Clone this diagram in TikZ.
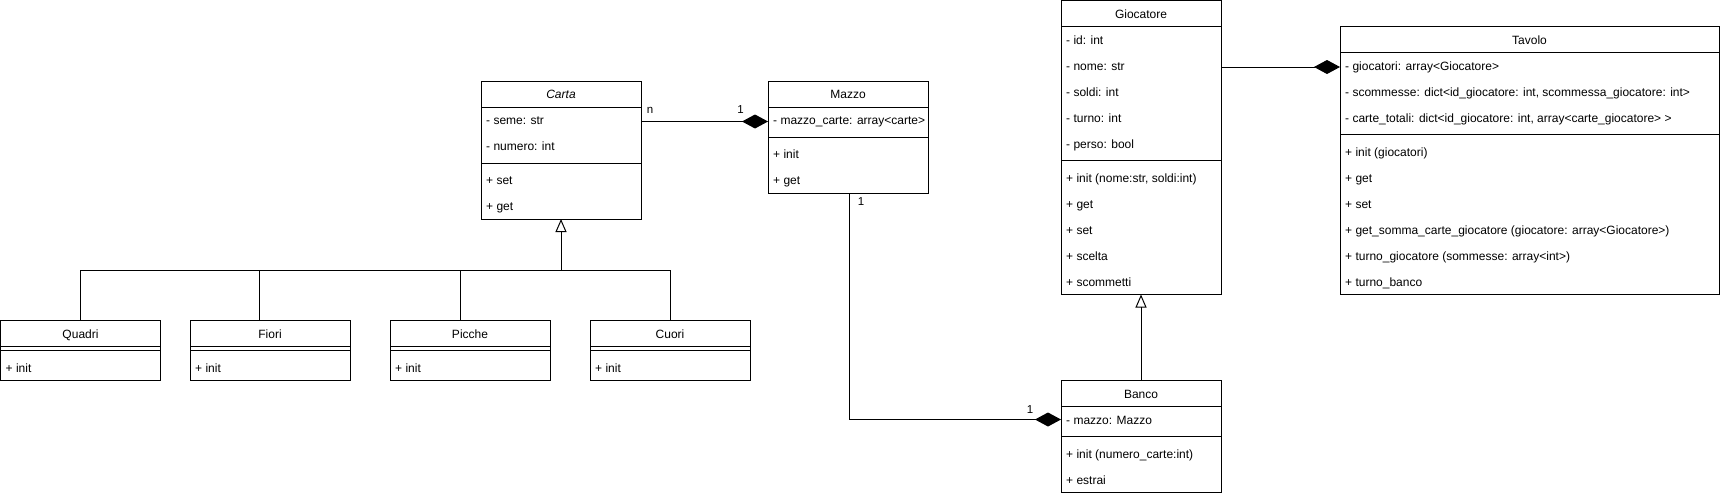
\documentclass[tikz,border=0pt]{standalone}
\usepackage{fontspec}
\setmainfont{Liberation Sans}
\usetikzlibrary{arrows.meta}
\newcommand\hsepline[3]{\draw[sepline] (#1,#3) -- (#2,#3);}
\begin{document}
\begin{tikzpicture}[x=1pt,y=-1pt,
  box/.style={draw, line width=1pt, anchor=north west, inner sep=0pt, outer sep=0pt, fill=white},
  txt/.style={anchor=west, inner sep=0pt, text height=8.6pt, text depth=2.5pt, yshift=-1.5pt, font=\fontsize{12}{14}\selectfont},
  ttl/.style={anchor=center, inner sep=0pt, text height=8.6pt, text depth=2.5pt, yshift=-1.5pt, font=\fontsize{12}{14}\selectfont},
  lbl/.style={inner sep=0pt, font=\fontsize{11.5}{13}\selectfont},
  sepline/.style={line width=1pt},
  wire/.style={line width=1pt},
  comp/.style={line width=1pt, -{Diamond[length=26pt, width=14pt]}},
  inh/.style={line width=1pt, -{Triangle[open, length=13pt, width=11pt]}},
]
\useasboundingbox (0,0) rectangle (1721,496);

% ---------- Carta ----------
\node[box, minimum width=160pt, minimum height=138pt] (carta) at (481,81) {};
\hsepline{481}{641}{107}
\hsepline{481}{641}{163}
\node[ttl] (carta-t) at (561,94) {\itshape Carta};
\node[txt] (carta-a1) at (486,120) {- seme: str};
\node[txt] (carta-a2) at (486,146) {- numero: int};
\node[txt] (carta-m1) at (486,180) {+ set};
\node[txt] (carta-m2) at (486,206) {+ get};

% ---------- Mazzo ----------
\node[box, minimum width=160pt, minimum height=112pt] (mazzo) at (768,81) {};
\hsepline{768}{928}{107}
\hsepline{768}{928}{137}
\node[ttl] (mazzo-t) at (848,94) {Mazzo};
\node[txt] (mazzo-a1) at (773,120) {- mazzo\_carte: array<carte>};
\node[txt] (mazzo-m1) at (773,154) {+ init};
\node[txt] (mazzo-m2) at (773,180) {+ get};

% ---------- Giocatore ----------
\node[box, minimum width=160pt, minimum height=294pt] (giocatore) at (1061,0.5) {};
\hsepline{1061}{1221}{26.5}
\hsepline{1061}{1221}{160.5}
\node[ttl] (gio-t) at (1141,13.5) {Giocatore};
\node[txt] (gio-a1) at (1066,39.5) {- id: int};
\node[txt] (gio-a2) at (1066,65.5) {- nome: str};
\node[txt] (gio-a3) at (1066,91.5) {- soldi: int};
\node[txt] (gio-a4) at (1066,117.5) {- turno: int};
\node[txt] (gio-a5) at (1066,143.5) {- perso: bool};
\node[txt] (gio-m1) at (1066,177.5) {+ init (nome:str, soldi:int)};
\node[txt] (gio-m2) at (1066,203.5) {+ get};
\node[txt] (gio-m3) at (1066,229.5) {+ set};
\node[txt] (gio-m4) at (1066,255.5) {+ scelta};
\node[txt] (gio-m5) at (1066,281.5) {+ scommetti};

% ---------- Tavolo ----------
\node[box, minimum width=379pt, minimum height=268pt] (tavolo) at (1340,26.5) {};
\hsepline{1340}{1719}{52.5}
\hsepline{1340}{1719}{134.5}
\node[ttl] (tav-t) at (1529.5,39.5) {Tavolo};
\node[txt] (tav-a1) at (1345,65.5) {- giocatori: array<Giocatore>};
\node[txt] (tav-a2) at (1345,91.5) {- scommesse: dict<id\_giocatore: int, scommessa\_giocatore: int>};
\node[txt] (tav-a3) at (1345,117.5) {- carte\_totali: dict<id\_giocatore: int, array<carte\_giocatore> >};
\node[txt] (tav-m1) at (1345,151.5) {+ init (giocatori)};
\node[txt] (tav-m2) at (1345,177.5) {+ get};
\node[txt] (tav-m3) at (1345,203.5) {+ set};
\node[txt] (tav-m4) at (1345,229.5) {+ get\_somma\_carte\_giocatore (giocatore: array<Giocatore>)};
\node[txt] (tav-m5) at (1345,255.5) {+ turno\_giocatore (sommesse: array<int>)};
\node[txt] (tav-m6) at (1345,281.5) {+ turno\_banco};

% ---------- Banco ----------
\node[box, minimum width=160pt, minimum height=112pt] (banco) at (1061,380.5) {};
\hsepline{1061}{1221}{406.5}
\hsepline{1061}{1221}{436.5}
\node[ttl] (banco-t) at (1141,393.5) {Banco};
\node[txt] (banco-a1) at (1066,419.5) {- mazzo: Mazzo};
\node[txt] (banco-m1) at (1066,453.5) {+ init (numero\_carte:int)};
\node[txt] (banco-m2) at (1066,479.5) {+ estrai};

% ---------- Subclasses ----------
\node[box, minimum width=160pt, minimum height=60pt] (quadri) at (0.5,320.5) {};
\hsepline{0.5}{160.5}{346.5}
\hsepline{0.5}{160.5}{350.5}
\node[ttl] (quadri-t) at (80.5,333.5) {Quadri};
\node[txt] (quadri-m1) at (5.5,367.5) {+ init};

\node[box, minimum width=160pt, minimum height=60pt] (fiori) at (190,320.5) {};
\hsepline{190}{350}{346.5}
\hsepline{190}{350}{350.5}
\node[ttl] (fiori-t) at (270,333.5) {Fiori};
\node[txt] (fiori-m1) at (195,367.5) {+ init};

\node[box, minimum width=160pt, minimum height=60pt] (picche) at (390,320.5) {};
\hsepline{390}{550}{346.5}
\hsepline{390}{550}{350.5}
\node[ttl] (picche-t) at (470,333.5) {Picche};
\node[txt] (picche-m1) at (395,367.5) {+ init};

\node[box, minimum width=160pt, minimum height=60pt] (cuori) at (590,320.5) {};
\hsepline{590}{750}{346.5}
\hsepline{590}{750}{350.5}
\node[ttl] (cuori-t) at (670,333.5) {Cuori};
\node[txt] (cuori-m1) at (595,367.5) {+ init};

% ---------- Connectors ----------
% generalisation Carta
\coordinate (hub) at (561,270.5);
\draw[wire] (quadri.north) -- (quadri.north |- hub) -- (cuori.north |- hub) -- (cuori.north);
\draw[wire] ([xshift=-11pt]fiori.north) -- ([xshift=-11pt]fiori.north |- hub);
\draw[wire] ([xshift=-10pt]picche.north) -- ([xshift=-10pt]picche.north |- hub);
\draw[inh] (hub) -- (carta.south);

% Carta -- Mazzo composition
\draw[comp] (carta.east |- carta-a1) -- (mazzo.west |- carta-a1);
\node[lbl] (lbl-n) at (650,110) {n};
\node[lbl] (lbl-1a) at (740.5,109.5) {1};

% Mazzo -- Banco composition
\coordinate (mb) at (849,419.5);
\draw[comp] (mazzo.south -| mb) -- (mb) -- (banco.west |- mb);
\node[lbl] (lbl-1b) at (861,202) {1};
\node[lbl] (lbl-1c) at (1030,410) {1};

% Giocatore -- Tavolo composition
\draw[comp] (giocatore.east |- gio-a2) -- (tavolo.west |- gio-a2);

% Banco -> Giocatore generalisation
\draw[inh] (banco.north) -- (giocatore.south);
\end{tikzpicture}
\end{document}
